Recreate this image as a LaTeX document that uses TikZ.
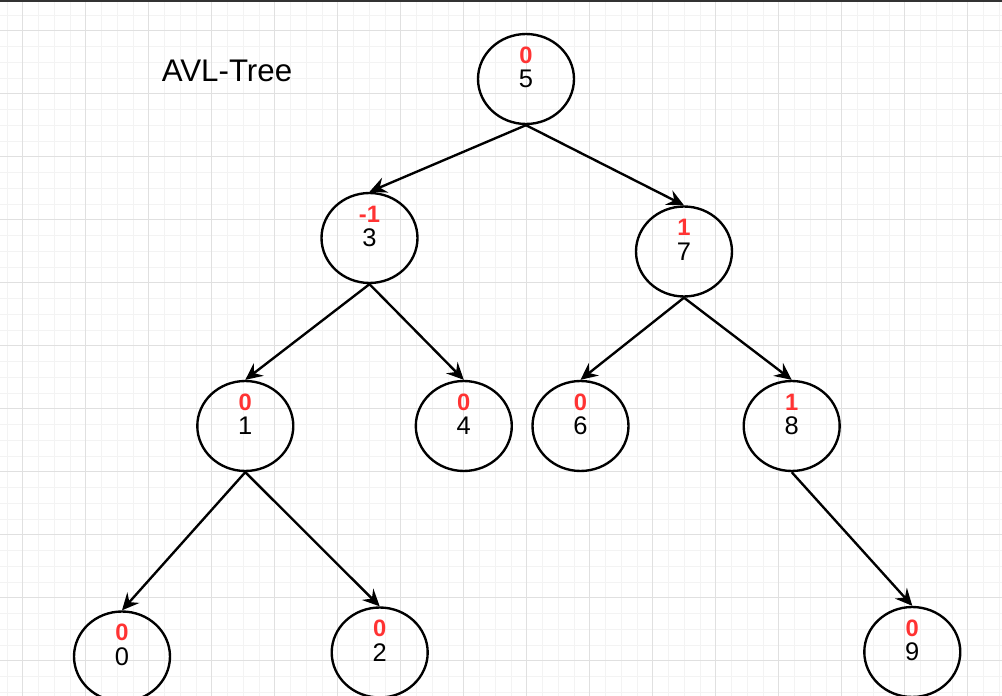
\documentclass[tikz,border=0pt]{standalone}
\usepackage{fontspec}
\setmainfont{Liberation Sans}
\usepackage{tikz}
\usetikzlibrary{shapes.geometric,arrows.meta}

\definecolor{balred}{HTML}{FF3333}
\definecolor{gridminor}{HTML}{F3F3F3}
\definecolor{gridmajor}{HTML}{E0E0E0}
\definecolor{topline}{HTML}{333333}

\tikzset{
  avl/.style={draw, ellipse, line width=1.35pt, minimum width=1.92cm, minimum height=1.8cm,
    inner sep=0pt, font=\fontsize{14.5}{16}\selectfont},
  bal/.style={text=balred, inner sep=0pt, label distance=-0.62cm,
    font=\fontsize{13.5}{14}\selectfont\bfseries},
  link/.style={line width=1.35pt, -{Stealth[length=0.34cm,width=0.32cm,inset=0.12cm]}}
}

\begin{document}
\begin{tikzpicture}[x=0.02cm,y=-0.02cm]
  \useasboundingbox (0,0) rectangle (1002,696);
  \fill[white] (0,0) rectangle (1002,696);
  % grid
  \foreach \i in {0,...,63} {
    \draw[gridminor, line width=0.4pt] (6.95+15.75*\i,0) -- (6.95+15.75*\i,696);
  }
  \foreach \i in {0,...,43} {
    \draw[gridminor, line width=0.4pt] (0,14.95+15.75*\i) -- (1002,14.95+15.75*\i);
  }
  \foreach \i in {0,...,15} {
    \draw[gridmajor, line width=0.5pt] (22.7+63*\i,0) -- (22.7+63*\i,696);
  }
  \foreach \i in {0,...,10} {
    \draw[gridmajor, line width=0.5pt] (0,30.7+63*\i) -- (1002,30.7+63*\i);
  }
  \draw[topline, line width=0.08cm] (0,0) -- (1002,0);

  \node[font=\fontsize{17.8}{20}\selectfont] (title) at (227,71) {AVL-Tree};

  % tree
  \node[avl, label={[bal]above:0}] (n5) at (526,79) {5};
  \node[avl, label={[bal]above:-1}] (n3) at (369.5,238) {3};
  \node[avl, label={[bal]above:1}] (n7) at (684,251.5) {7};
  \node[avl, label={[bal]above:0}] (n1) at (245.3,426) {1};
  \node[avl, label={[bal]above:0}] (n4) at (463.8,426) {4};
  \node[avl, label={[bal]above:0}] (n6) at (580.5,426) {6};
  \node[avl, label={[bal]above:1}] (n8) at (791.7,426) {8};
  \node[avl, label={[bal]above:0}] (n0) at (122,656.5) {0};
  \node[avl, label={[bal]above:0}] (n2) at (379.7,652.5) {2};
  \node[avl, label={[bal]above:0}] (n9) at (912.3,652) {9};

  \foreach \a/\b in {n5/n3,n5/n7,n3/n1,n3/n4,n7/n6,n7/n8,n1/n0,n1/n2,n8/n9} {
    \draw[link] (\a.south) -- (\b.north);
  }
\end{tikzpicture}
\end{document}
